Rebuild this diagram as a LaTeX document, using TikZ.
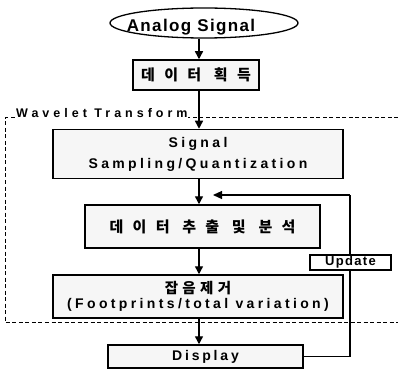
\documentclass[tikz,border=0pt]{standalone}
\usepackage{fontspec}
\setmainfont{Liberation Sans}
\newfontfamily\lat[LetterSpace=24]{Liberation Sans}
\newfontfamily\latd[LetterSpace=20]{Liberation Sans}
\newfontfamily\latw[LetterSpace=32]{Liberation Sans}
\newfontfamily\latu[LetterSpace=10]{Liberation Sans}
\newfontfamily\lata[LetterSpace=8]{Liberation Sans}
\newfontfamily\kr[LetterSpace=62]{Noto Sans CJK KR}
\newfontfamily\krn[LetterSpace=30]{Noto Sans CJK KR}
\usetikzlibrary{arrows.meta,shapes.geometric}
\tikzset{
  box/.style={draw, line width=1.5pt, fill=gray!7, inner sep=0pt, align=center},
  conn/.style={line width=1.4pt, -{Triangle[width=8pt,length=8pt]}},
  fb/.style={line width=1.2pt},
  dash box/.style={line width=1pt, dash pattern=on 4pt off 2.5pt},
  latf/.style={font=\fontsize{14}{21}\selectfont\bfseries\lat},
  krf/.style={font=\fontsize{15}{17}\selectfont\bfseries\kr},
}
\begin{document}
\begin{tikzpicture}[x=1pt,y=-1pt]
\useasboundingbox (0,0) rectangle (398,374);
\fill[white] (0,0) rectangle (398,374);
% dashed wavelet region
\draw[dash box] (398,118) -- (5,118) -- (5,322) -- (398,322);
\node[anchor=base west, inner sep=0pt, fill=white, font=\fontsize{12.5}{15}\selectfont\bfseries\latw] (wt) at (16,118) {Wavelet Transform};
% nodes
\node[ellipse, draw, line width=1.3pt, minimum width=188pt, minimum height=30pt, inner sep=0pt] (an) at (204,23) {};
\node[inner sep=0pt, font=\fontsize{17}{20}\selectfont\bfseries\lata] (ant) at (191,27) {Analog Signal};
\node[box, krf, minimum width=126pt, minimum height=30pt] (b1) at (196,75) {데이터 획득};
\node[box, latf, minimum width=290pt, minimum height=49pt] (b2) at (198,154)
  {Signal\\Sampling/Quantization};
\node[box, krf, minimum width=235pt, minimum height=43pt] (b3) at (202.5,226.5) {데이터 추출 및 분석};
\node[box, font=\fontsize{14}{15}\selectfont\bfseries, minimum width=290pt, minimum height=43pt] (b4) at (198,296.5)
  {\fontsize{14.5}{15}\selectfont\krn 잡음제거\\\fontsize{14}{15}\selectfont\lat (Footprints/total variation)};
\node[box, font=\fontsize{14}{21}\selectfont\bfseries\latd, minimum width=195pt, minimum height=23pt] (b5) at (205.5,356.5) {Display};
% spine
\coordinate (xc) at (199,0);
\draw[conn] (an.south -| xc) -- (b1.north -| xc);
\draw[conn] (b1.south -| xc) -- (b2.north -| xc);
\draw[conn] (b2.south -| xc) -- (b3.north -| xc);
\draw[conn] (b3.south -| xc) -- (b4.north -| xc);
\draw[conn] (b4.south -| xc) -- (b5.north -| xc);
% feedback
\coordinate (fr) at (350,195);
\coordinate (fe) at (213,195);
\draw[fb] (b5.east) -| (fr);
\draw[fb, -{Triangle[width=8pt,length=9pt]}] (fr) -- (fe);
\node[draw, line width=1.2pt, fill=white, minimum width=81pt, minimum height=15pt, inner sep=0pt, font=\fontsize{13}{14}\selectfont\bfseries\latu] (up) at (350.5,262.5) {Update};
\end{tikzpicture}
\end{document}
